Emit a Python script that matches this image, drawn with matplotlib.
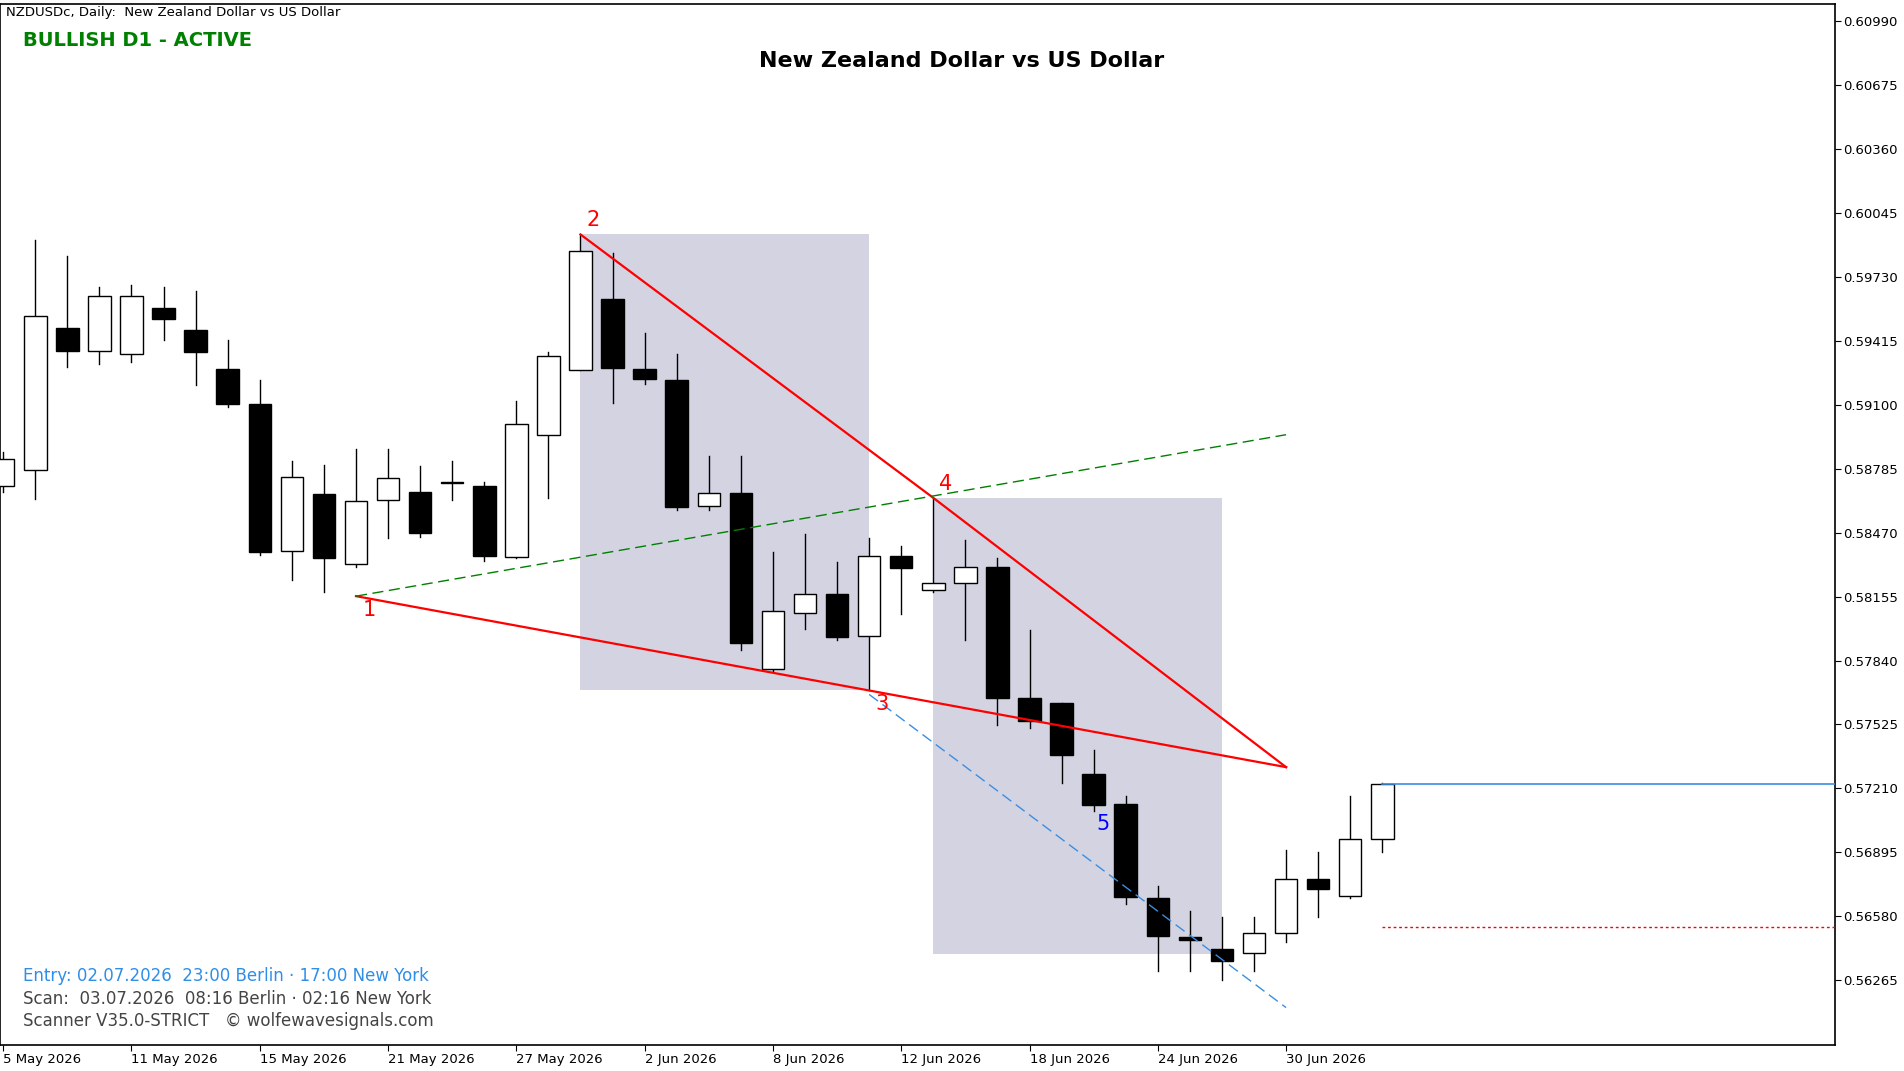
import matplotlib
matplotlib.use("Agg")
import matplotlib.pyplot as plt
from matplotlib.patches import Rectangle

# daily OHLC, bar index 0 = 5 May 2026
opens  = [.58701,.58779,.59478,.59365,.59347,.59574,.59466,.59275,.59102,.58378,.58659,.58313,.58630,.58671,.58719,
          .58701,.58349,.58952,.59269,.59622,.59275,.59221,.58600,.58665,.57799,.58074,.58169,.57960,.58355,.58187,
          .58223,.58301,.57655,.57631,.57279,.57135,.56669,.56478,.56418,.56400,.56496,.56765,.56681,.56962]
highs  = [.58869,.59909,.59831,.59681,.59687,.59681,.59658,.59418,.59221,.58821,.58803,.58881,.58881,.58797,.58821,
          .58719,.59120,.59359,.59938,.59849,.59454,.59347,.58845,.58845,.58373,.58462,.58325,.58444,.58402,.58641,
          .58432,.58343,.57990,.57631,.57398,.57171,.56729,.56609,.56579,.56579,.56908,.56896,.57171,.57237]
lows   = [.58671,.58636,.59287,.59299,.59311,.59418,.59197,.59090,.58361,.58235,.58175,.58301,.58444,.58450,.58630,
          .58331,.58343,.58641,.59269,.59108,.59203,.58582,.58582,.57894,.57787,.57996,.57942,.57697,.58068,.58175,
          .57942,.57524,.57506,.57237,.57099,.56639,.56310,.56310,.56269,.56310,.56454,.56579,.56669,.56896]
closes = [.58833,.59538,.59365,.59634,.59634,.59520,.59359,.59102,.58373,.58743,.58343,.58624,.58737,.58468,.58713,
          .58355,.59006,.59341,.59855,.59281,.59227,.58594,.58665,.57924,.58086,.58169,.57954,.58355,.58295,.58223,
          .58301,.57655,.57542,.57374,.57129,.56675,.56484,.56466,.56358,.56496,.56765,.56717,.56962,.57231]

date_idx = [0, 4, 8, 12, 16, 20, 24, 28, 32, 36, 40]
date_labels = ["5 May 2026", "11 May 2026", "15 May 2026", "21 May 2026", "27 May 2026", "2 Jun 2026",
               "8 Jun 2026", "12 Jun 2026", "18 Jun 2026", "24 Jun 2026", "30 Jun 2026"]
price_ticks = [0.60990, 0.60675, 0.60360, 0.60045, 0.59730, 0.59415, 0.59100, 0.58785,
               0.58470, 0.58155, 0.57840, 0.57525, 0.57210, 0.56895, 0.56580, 0.56265]

# wolfe wave points (bar index, price)
wave_x = [11, 18, 27, 29, 34.3]
wave_y = [0.58157, 0.59938, 0.57697, 0.58641, 0.57034]
wave_lbl = ["1", "2", "3", "4", "5"]
end_x, end_y = 40, 0.57315
green_end = 0.58952
blue_start, blue_end = 0.57673, 0.56131
zones = [(18, 27, 0.57697, 0.59938), (29, 38, 0.56394, 0.58641)]
target = 0.57231
stop = 0.56526

fig = plt.figure(figsize=(19.04, 10.71), dpi=100)
ax = fig.add_axes([0.0, 0.0245, 0.9635, 0.972])

for x0, x1, y0, y1 in zones:
    ax.add_patch(Rectangle((x0, y0), x1 - x0, y1 - y0, facecolor="#d3d3e2", edgecolor="none", zorder=0))

w = 0.35
for i in range(len(opens)):
    o, h, l, c = opens[i], highs[i], lows[i], closes[i]
    ax.plot([i, i], [l, h], color="black", lw=1, zorder=2)
    bot, top = min(o, c), max(o, c)
    fc = "white" if c >= o else "black"
    ax.add_patch(Rectangle((i - w, bot), 2 * w, max(top - bot, 0.00003), facecolor=fc,
                           edgecolor="black", lw=1, zorder=3))

# pattern lines
ax.plot([wave_x[0], end_x], [wave_y[0], end_y], color="red", lw=1.6, zorder=4)
ax.plot([wave_x[1], wave_x[3], end_x], [wave_y[1], wave_y[3], end_y], color="red", lw=1.6, zorder=4)
ax.plot([wave_x[0], end_x], [wave_y[0], green_end], color="green", lw=1, ls=(0, (8, 4)), zorder=4)
ax.plot([wave_x[2], end_x], [blue_start, blue_end], color="#3c8ee0", lw=1, ls=(0, (8, 4)), zorder=4)
ax.plot([43, 60], [target, target], color="#3c8ee0", lw=1.2, zorder=4)
ax.plot([43, 60], [stop, stop], color="red", lw=1, ls=(0, (2, 2)), zorder=4)

offs = [(0.4, -0.0002), (0.4, 0.0002), (0.4, -0.0002), (0.4, 0.0002), (0.0, 0.0)]
for k in range(5):
    col = "blue" if k == 4 else "red"
    va = "top" if offs[k][1] < 0 else "bottom"
    ax.text(wave_x[k] + offs[k][0], wave_y[k] + offs[k][1], wave_lbl[k], color=col,
            fontsize=15, ha="center", va=va if k < 4 else "center", zorder=5)

ax.set_xlim(-0.1, 57.1)
ax.set_ylim(0.55948, 0.61074)
ax.yaxis.tick_right()
ax.set_yticks(price_ticks)
ax.set_yticklabels([f"{p:.5f}" for p in price_ticks], fontsize=9.5)
ax.set_xticks(date_idx)
ax.set_xticklabels(date_labels, fontsize=9.5, ha="left")
ax.tick_params(direction="out", length=4, pad=2)
for s in ax.spines.values():
    s.set_linewidth(1.2)

fig.text(0.003, 0.988, "NZDUSDc, Daily:  New Zealand Dollar vs US Dollar", fontsize=9.5, va="center")
fig.text(0.012, 0.962, "BULLISH D1 - ACTIVE", fontsize=14, color="green", fontweight="bold", va="center")
fig.text(0.505, 0.943, "New Zealand Dollar vs US Dollar", fontsize=16, fontweight="bold", ha="center", va="center")
fig.text(0.012, 0.0885, "Entry: 02.07.2026  23:00 Berlin · 17:00 New York", fontsize=12, color="#2f8ee8", va="center")
fig.text(0.012, 0.0675, "Scan:  03.07.2026  08:16 Berlin · 02:16 New York", fontsize=12, color="#444444", va="center")
fig.text(0.012, 0.0465, "Scanner V35.0-STRICT   © wolfewavesignals.com", fontsize=12, color="#444444", va="center")

fig.savefig("out.png", dpi=100)
